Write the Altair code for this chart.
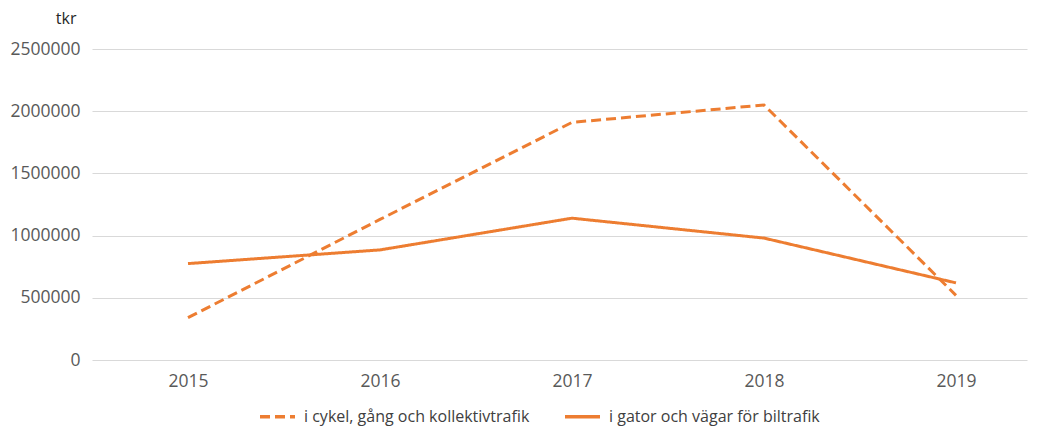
import altair as alt
import pandas as pd

years = [2015, 2016, 2017, 2018, 2019]
series_names = ["i cykel, gång och kollektivtrafik", "i gator och vägar för biltrafik"]
cykel = [340000, 1130000, 1910000, 2050000, 520000]
gator = [775000, 885000, 1140000, 980000, 620000]

rows = []
for y, v in zip(years, cykel):
    rows.append({"year": y, "value": v, "series": series_names[0]})
for y, v in zip(years, gator):
    rows.append({"year": y, "value": v, "series": series_names[1]})
df = pd.DataFrame(rows)

orange = "#ED7D31"
font = "Open Sans"

legend = alt.Legend(orient="none", legendX=166, legendY=348,
                    direction="horizontal", title=None,
                    symbolType="stroke", symbolSize=1225,
                    symbolStrokeWidth=3.5, symbolStrokeColor=orange,
                    labelFontSize=16, labelFont=font,
                    labelColor="#404040", labelOffset=7,
                    columnPadding=28, labelLimit=400)

chart = alt.Chart(df).mark_line(strokeWidth=3).encode(
    x=alt.X("year:Q", scale=alt.Scale(domain=[2014.5, 2019.37], nice=False, zero=False),
            axis=alt.Axis(values=years, format="d", title=None, grid=False, domain=False,
                          ticks=False, labelFontSize=17.5, labelColor="#595959",
                          labelFont=font, labelPadding=12)),
    y=alt.Y("value:Q", scale=alt.Scale(domain=[0, 2500000], nice=False),
            axis=alt.Axis(values=[0, 500000, 1000000, 1500000, 2000000, 2500000], format="d",
                          title="tkr", titleAngle=0, titleAlign="right", titleBaseline="middle",
                          titleX=-16, titleY=-31, titleFontSize=16, titleFontWeight="normal",
                          titleColor="#262626", titleFont=font,
                          grid=True, gridColor="#D9D9D9", gridWidth=1, domain=False,
                          ticks=False, labelFontSize=17.5, labelColor="#595959",
                          labelFont=font, labelPadding=12)),
    color=alt.Color("series:N", scale=alt.Scale(domain=series_names, range=[orange, orange]),
                    legend=legend),
    strokeDash=alt.StrokeDash("series:N",
                              scale=alt.Scale(domain=series_names, range=[[10, 5], [1, 0]]),
                              legend=legend),
).properties(
    width=935,
    height=311,
    autosize=alt.AutoSizeParams(type="none"),
    padding={"left": 84, "top": 41, "right": 2, "bottom": 66},
).configure_view(stroke=None)

chart.save("out.html", embed_options={"renderer": "svg", "actions": False})
